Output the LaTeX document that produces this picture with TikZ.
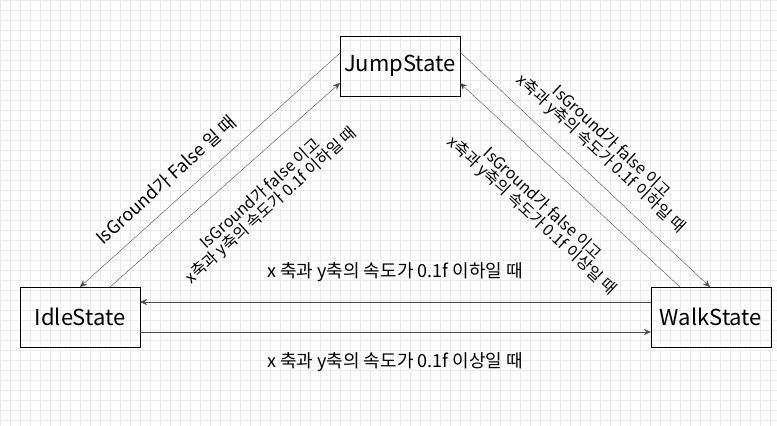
\documentclass[tikz,border=0pt]{standalone}
\usepackage{fontspec}
\setmainfont{Noto Sans CJK KR}
\usetikzlibrary{arrows.meta}
\begin{document}
\begin{tikzpicture}[x=1pt,y=-1pt,
            state/.style={draw,minimum width=120pt,minimum height=60pt,font=\fontsize{22}{24}\selectfont,inner sep=0pt},
            trans/.style={draw=black!70,-{Stealth[length=7pt,width=6pt]}},
            lbl/.style={font=\fontsize{18}{18}\selectfont,align=center,inner sep=1pt},
            slbl/.style={lbl,font=\fontsize{16}{16}\selectfont}]
    % grid
    \useasboundingbox (0,0) rectangle (777,426);
    \draw[black!8,step=10pt] (0,0) grid (777,426);
    % states
    \node[state] (jump) at (400,66) {JumpState};
    \node[state] (idle) at (80,317) {IdleState};
    \node[state] (walk) at (711,317) {WalkState};
    % transitions
    \coordinate (j1) at (340,53);  \coordinate (j2) at (340,83);
    \coordinate (j3) at (460,52);  \coordinate (j4) at (460,83);
    \draw[trans] (j1) -- (80,287);
    \draw[trans] (110,287) -- (j2);
    \draw[trans] (j3) -- (710,287);
    \draw[trans] (680,287) -- (j4);
    \draw[trans] (651,302) -- (140,302);
    \draw[trans] (140,332) -- (651,332);
    % labels
    \node[lbl,rotate=42] (l1) at (166,180) {IsGround가 False 일 때};
    \node[slbl,rotate=42] (l2) at (266,200) {IsGround가 false 이고\\x축과 y축의 속도가 0.1f 이하일 때};
    \node[slbl,rotate=-43] (l3) at (606,148) {IsGround가 false 이고\\x축과 y축의 속도가 0.1f 이하일 때};
    \node[slbl,rotate=-43] (l4) at (537,210) {IsGround가 false 이고\\x축과 y축의 속도가 0.1f 이상일 때};
    \node[lbl] (l5) at (395,272) {x 축과 y축의 속도가 0.1f 이하일 때};
    \node[lbl] (l6) at (395,362) {x 축과 y축의 속도가 0.1f 이상일 때};
\end{tikzpicture}
\end{document}
